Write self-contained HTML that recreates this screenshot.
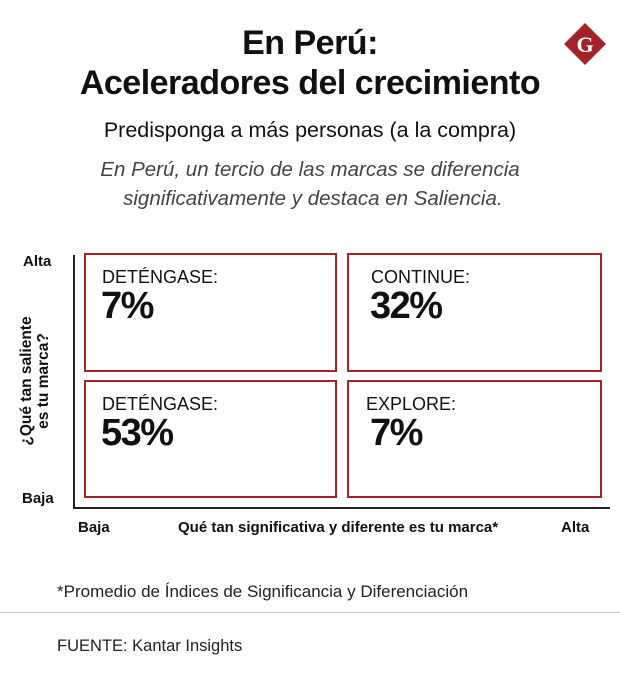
<!DOCTYPE html>
<html><head><meta charset="utf-8"><style>
body{margin:0;width:620px;height:683px;background:#fff;font-family:"Liberation Sans",sans-serif;color:#111;position:relative;overflow:hidden}
.a{position:absolute}
.t{left:0;width:620px;text-align:center;font-weight:bold;font-size:34px;letter-spacing:-0.5px}
.box{position:absolute;border:2px solid #a3232b;box-sizing:border-box}
.lab{position:absolute;left:16px;top:12px;font-size:18px}
.val{position:absolute;left:15px;top:30px;font-size:38px;font-weight:bold;letter-spacing:-1.5px}
.ax{font-size:15px;font-weight:bold}
</style></head><body>
<div class="a t" style="top:24px">En Perú:</div>
<div class="a t" style="top:64px">Aceleradores del crecimiento</div>
<svg class="a" style="left:563px;top:22px" width="44" height="44"><polygon points="22,1 43,22 22,43 1,22" fill="#a3232b"/><text x="22" y="30" text-anchor="middle" font-family="Liberation Serif" font-weight="bold" font-size="22" fill="#fff">G</text></svg>
<div class="a" style="left:0;width:620px;text-align:center;top:118px;font-size:21.5px">Predisponga a más personas (a la compra)</div>
<div class="a" style="left:0;width:620px;text-align:center;top:155px;font-size:20.5px;font-style:italic;color:#444;line-height:29px">En Perú, un tercio de las marcas se diferencia<br>&nbsp;significativamente y destaca en Saliencia.</div>
<div class="a" style="left:73px;top:255px;width:2px;height:254px;background:#222"></div>
<div class="a" style="left:73px;top:507px;width:537px;height:2px;background:#222"></div>
<div class="a ax" style="left:23px;top:253px">Alta</div>
<div class="a ax" style="left:22px;top:490px">Baja</div>
<div class="a ax" style="left:-45px;top:364px;width:160px;text-align:center;transform:rotate(-90deg);line-height:17px;font-size:15.5px">¿Qué tan saliente<br>es tu marca?</div>
<div class="a ax" style="left:78px;top:519px">Baja</div>
<div class="a ax" style="left:178px;top:519px">Qué tan significativa y diferente es tu marca*</div>
<div class="a ax" style="left:561px;top:519px">Alta</div>
<div class="box" style="left:84px;top:253px;width:253px;height:119px"><div class="lab">DETÉNGASE:</div><div class="val">7%</div></div>
<div class="box" style="left:347px;top:253px;width:255px;height:119px"><div class="lab" style="left:22px">CONTINUE:</div><div class="val" style="left:21px">32%</div></div>
<div class="box" style="left:84px;top:380px;width:253px;height:118px"><div class="lab">DETÉNGASE:</div><div class="val">53%</div></div>
<div class="box" style="left:347px;top:380px;width:255px;height:118px"><div class="lab" style="left:17px">EXPLORE:</div><div class="val" style="left:21px">7%</div></div>
<div class="a" style="left:57px;top:582px;font-size:17px;color:#222">*Promedio de Índices de Significancia y Diferenciación</div>
<div class="a" style="left:0;top:612px;width:620px;height:1px;background:#ccc"></div>
<div class="a" style="left:57px;top:637px;font-size:16.5px;color:#222">FUENTE: Kantar Insights</div>
</body></html>
